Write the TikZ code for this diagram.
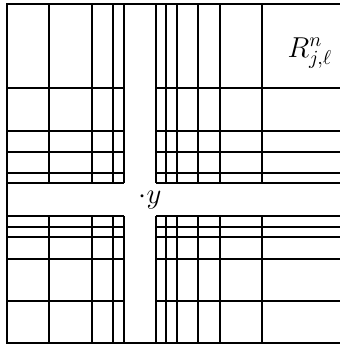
\documentclass[tikz,border=0pt]{standalone}
\tikzset{
  gridline/.style={line width=0.75pt},
  boldline/.style={line width=1pt}
}
\begin{document}
\begin{tikzpicture}[x=0.5pt,y=-0.5pt]
        \useasboundingbox (0,0) rectangle (340,345);

        % Outer frame (right side runs off the picture)
        \draw[gridline] (340,4) -- (7,4) -- (7,343) -- (340,343);

        % Horizontal lines, left and right blocks
        \foreach \h/\s in {88/boldline,131/gridline,152/boldline,173/gridline,183/gridline,
                          216/gridline,227/gridline,237/gridline,259/gridline,301/gridline} {
            \draw[\s] (7,\h) -- (124,\h);
            \draw[\s] (156,\h) -- (340,\h);
        }

        % Vertical lines, upper and lower blocks
        \foreach \v/\s in {49/boldline,92/gridline,113/gridline,124/gridline,156/gridline,
                          166/boldline,177/gridline,198/boldline,220/boldline,262/gridline} {
            \draw[\s] (\v,4) -- (\v,183);
            \draw[\s] (\v,216) -- (\v,343);
        }

        % Labels
        \node (rlabel) at (310,53) {\Large $R^n_{j,\ell}$};
        \node (ylabel) at (150,200) {\Large $\cdot y$};
    \end{tikzpicture}
\end{document}
